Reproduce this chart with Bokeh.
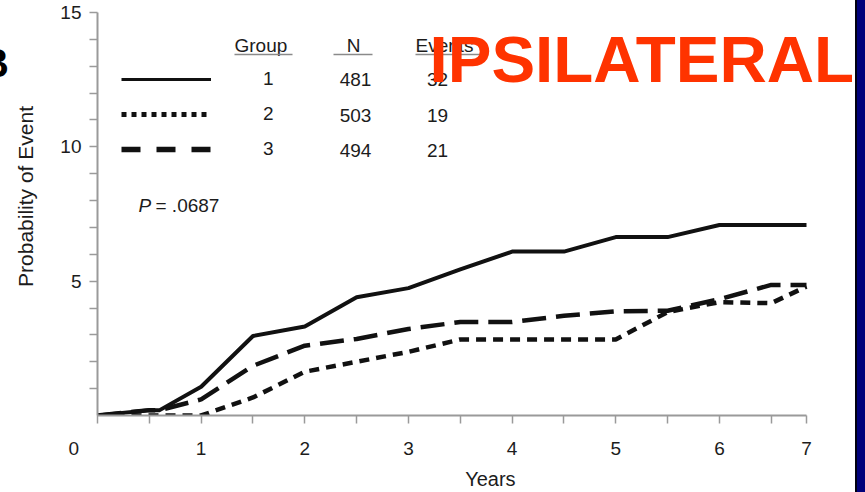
import math
from bokeh.plotting import figure
from bokeh.models import (Range1d, FixedTicker, Label, Legend, LegendItem,
                          BoxAnnotation, ColumnDataSource, Div)
from bokeh.layouts import row
from bokeh.embed import file_html
from bokeh.resources import INLINE

# ---------------- data ----------------
years_g1 = [0, 0.5, 0.6, 1.0, 1.5, 2.0, 2.5, 3.0, 3.5, 4.0, 4.5, 5.0, 5.5, 6.0, 6.84]
prob_g1 = [0, 0.2, 0.2, 1.07, 2.96, 3.31, 4.4, 4.74, 5.44, 6.1, 6.1, 6.64, 6.64, 7.09, 7.09]

years_g2 = [0, 1.0, 1.5, 2.0, 2.5, 3.0, 3.5, 4.0, 4.5, 5.0, 5.5, 6.0, 6.5, 6.84]
prob_g2 = [0, 0, 0.67, 1.63, 2.0, 2.37, 2.83, 2.83, 2.83, 2.83, 3.85, 4.22, 4.18, 4.8]

years_g3 = [0, 0.5, 0.6, 1.0, 1.5, 2.0, 2.5, 3.0, 3.5, 4.0, 4.5, 5.0, 5.5, 6.0, 6.5, 6.84]
prob_g3 = [0, 0.2, 0.2, 0.6, 1.85, 2.6, 2.85, 3.22, 3.48, 3.48, 3.71, 3.88, 3.9, 4.33, 4.86, 4.86]

groups = ["1", "2", "3"]
group_n = ["481", "503", "494"]
group_events = ["32", "19", "21"]

x_axis_end = 6.84
x_major_ticks = [0, 1, 2, 3, 4, 5, 6, 6.84]
x_major_labels = ["0" + "\u00a0" * 9, "1", "2", "3", "4", "5", "6", "7"]
x_minor_ticks = [0.5, 1.5, 2.5, 3.5, 4.5, 5.5, 6.5]
y_major_ticks = [5, 10, 15]
y_minor_ticks = [1, 2, 3, 4, 6, 7, 8, 9, 11, 12, 13, 14]

# ---------------- layout constants ----------------
B_W = 9            # strip holding the cut-off panel letter
BAND_W = 10        # navy slide border on the right
H = 492
FL, FR, FT, FB = 97, 806, 12, 417   # axis box edges in page pixels
FRAME_R = 855                       # frame extends under the title text
FONT = "Liberation Sans"
INK = "#1c1c1c"
AXC = "#9a9a9a"
DY = 2                              # small vertical nudge for table texts

view_end = x_axis_end * (FRAME_R - FL) / (FR - FL)

p = figure(width=FRAME_R - B_W, height=H, output_backend="svg", toolbar_location=None,
           x_range=Range1d(0, view_end), y_range=Range1d(0, 15),
           min_border_left=FL - B_W, min_border_right=0,
           min_border_top=FT, min_border_bottom=H - FB, margin=0)
p.outline_line_color = None
p.grid.visible = False
p.background_fill_color = "white"
p.border_fill_color = "white"

# axes
p.xaxis.bounds = (0, x_axis_end)
p.xaxis.ticker = FixedTicker(ticks=x_major_ticks, minor_ticks=x_minor_ticks)
p.xaxis.major_label_overrides = {t: l for t, l in zip(x_major_ticks, x_major_labels)}
p.yaxis.ticker = FixedTicker(ticks=y_major_ticks, minor_ticks=y_minor_ticks)
for ax in (p.xaxis, p.yaxis):
    ax.axis_line_color = AXC
    ax.axis_line_width = 2
    ax.major_tick_line_color = AXC
    ax.minor_tick_line_color = AXC
    ax.major_tick_line_width = 1.5
    ax.minor_tick_line_width = 1.5
    ax.major_tick_in = 0
    ax.minor_tick_in = 0
    ax.major_tick_out = 8
    ax.minor_tick_out = 8
    ax.major_label_text_font = FONT
    ax.major_label_text_font_size = "19px"
    ax.major_label_text_color = INK
    ax.axis_label_text_font = FONT
    ax.axis_label_text_font_style = "normal"
    ax.axis_label_text_color = INK
p.xaxis.major_label_standoff = 14
p.yaxis.major_label_standoff = 8
p.xaxis.axis_label = "\u00a0" * 5 + "Years"
p.xaxis.axis_label_text_font_size = "20px"
p.xaxis.axis_label_standoff = 6
p.yaxis.axis_label = "\u00a0" * 6 + "Probability of Event"
p.yaxis.axis_label_text_font_size = "21px"
p.yaxis.axis_label_standoff = 20

# curves
p.line(years_g1, prob_g1, line_color="#111111", line_width=4)
p.line(years_g2, prob_g2, line_color="#111111", line_width=4.5, line_dash="10 7")
p.line(years_g3, prob_g3, line_color="#111111", line_width=4.5, line_dash="24 10")

# legend-only renderers (draw nothing in the plot)
nothing = ColumnDataSource(data=dict(x=[float("nan")], y=[float("nan")]))
l1 = p.line("x", "y", source=nothing, line_color="#111111", line_width=3)
l2 = p.line("x", "y", source=nothing, line_color="#111111", line_width=5, line_dash="5 5")
l3 = p.line("x", "y", source=nothing, line_color="#111111", line_width=5.5, line_dash="19 16")
legend = Legend(items=[LegendItem(label=g, renderers=[r]) for g, r in zip(groups, [l1, l2, l3])],
                location=(121 - FL, FB - 162), orientation="vertical",
                glyph_width=90, glyph_height=20, label_height=20, label_width=10,
                label_standoff=52, spacing=13, padding=0, margin=0,
                border_line_color=None, background_fill_alpha=0,
                label_text_font=FONT, label_text_font_size="19px",
                label_text_color=INK)
p.add_layout(legend)


def lab(text, px, py, size="19px", align="left", color=INK, style="normal"):
    p.add_layout(Label(x=px - FL, y=FB - py, x_units="screen", y_units="screen",
                       text=text, text_font=FONT, text_font_size=size,
                       text_align=align, text_baseline="middle",
                       text_color=color, text_font_style=style))


def underline(x0, x1, py):
    p.add_layout(BoxAnnotation(left=x0 - FL, right=x1 - FL, bottom=FB - py - 0.8, top=FB - py + 0.8,
                               left_units="screen", right_units="screen",
                               top_units="screen", bottom_units="screen",
                               fill_color="#8a8a8a", fill_alpha=1, line_color=None))


# table headers
lab("Group", 234, 44.5 + DY)
underline(234, 292, 56)
lab("N", 353, 44.5 + DY, align="center")
underline(333, 372, 56)
lab("Events", 415, 44.5 + DY)
underline(415, 482, 56)

row_mid = [79, 114.5, 149.5]
for n, ev, ym in zip(group_n, group_events, row_mid):
    lab(n, 355, ym + DY, align="center")
    lab(ev, 437, ym + DY, align="center")

# P value
lab("P", 138, 207, style="italic")
lab("= .0687", 155, 207)

# slide title
lab("IPSILATERAL", 429, 60.5, size="65.5px", style="bold", color="#FF3300")

letter = Div(text=("<div style=\"position:relative;width:%dpx;height:%dpx;overflow:hidden;\">"
                   "<span style=\"position:absolute;right:0px;top:43px;font-family:'Liberation Sans';"
                   "font-weight:bold;font-size:40px;line-height:40px;color:#000;\">B</span></div>")
             % (B_W, H), width=B_W, height=H, margin=0,
             styles={"overflow": "hidden", "background-color": "white"})
band = Div(width=BAND_W, height=H, margin=0,
           styles={"background-color": "#00007a", "border-left": "2px solid #000010",
                   "box-sizing": "border-box"})

layout = row(letter, p, band, spacing=0)
open("out.html", "w").write(file_html(layout, INLINE))
